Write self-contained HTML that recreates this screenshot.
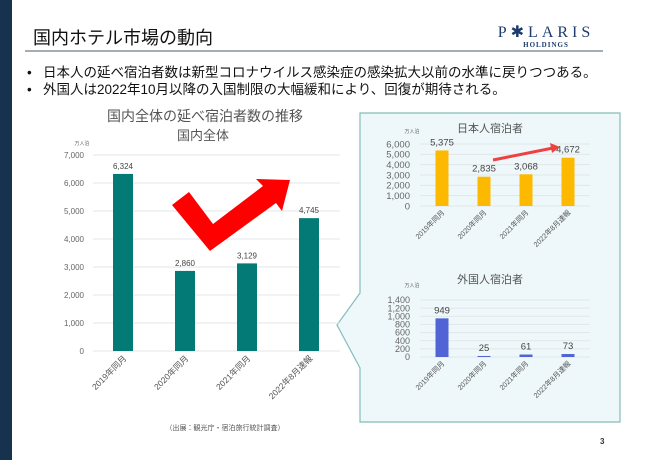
<!DOCTYPE html>
<html><head><meta charset="utf-8"><style>
body{margin:0;width:650px;height:460px;background:#fff;overflow:hidden;font-family:"Liberation Sans","Noto Sans CJK JP",sans-serif;position:relative}
.abs{position:absolute}
</style></head><body>
<div class="abs" style="left:0;top:0;width:12px;height:460px;background:#16324f"></div>
<div class="abs" style="left:33px;top:24px;font-size:18px;color:#111">国内ホテル市場の動向</div>
<div class="abs" style="left:25px;top:50px;width:578px;height:2px;background:#a3adb6"></div>
<div class="abs" style="left:496px;top:22px;width:100px;text-align:center;color:#1d3c6e;font-family:'Liberation Serif',serif">
<div style="font-size:16px;letter-spacing:4px">P✱LARIS</div><div style="font-size:7px;letter-spacing:1px;margin-top:-1px;font-weight:bold">HOLDINGS</div></div>
<div class="abs" style="left:27px;top:61px;font-size:13.5px;color:#111">•&nbsp;&nbsp;&nbsp;日本人の延べ宿泊者数は新型コロナウイルス感染症の感染拡大以前の水準に戻りつつある。</div>
<div class="abs" style="left:27px;top:78px;font-size:13.5px;color:#111">•&nbsp;&nbsp;&nbsp;外国人は2022年10月以降の入国制限の大幅緩和により、回復が期待される。</div>
<svg class="abs" style="left:0;top:0" width="650" height="460" id="svg">
<polygon points="360,113 620,113 620,422 360,422 360,368 337,325 360,293" fill="#eef8fa" stroke="#85bcba" stroke-width="1.2"/>
<text x="205" y="121" text-anchor="middle" font-size="14" fill="#555">国内全体の延べ宿泊者数の推移</text>
<text x="203" y="140" text-anchor="middle" font-size="13" fill="#555">国内全体</text>
<text x="82" y="145" text-anchor="middle" font-size="5" fill="#666">万人泊</text>
<text x="490" y="132" text-anchor="middle" font-size="11" fill="#555">日本人宿泊者</text>
<text x="412" y="133" text-anchor="middle" font-size="5" fill="#666">万人泊</text>
<text x="490" y="283" text-anchor="middle" font-size="11" fill="#555">外国人宿泊者</text>
<text x="412" y="287" text-anchor="middle" font-size="5" fill="#666">万人泊</text>
<g id="main"></g><g id="jp"></g><g id="fr"></g>
<polygon points="172,205 189,192 213,224 263,186 256,179 290,180 282,211 276,203 210,251" fill="#f00"/>
<line x1="493" y1="160" x2="553" y2="148" stroke="#f04040" stroke-width="3"/>
<polygon points="560,147 550,143 552,153" fill="#f04040"/>
<text x="225" y="430" text-anchor="middle" font-size="7" fill="#555">（出展：観光庁・宿泊旅行統計調査）</text>
<text x="600" y="444" font-size="8" font-weight="bold" fill="#333">3</text>
</svg>
<script>
const categories=["2019年同月","2020年同月","2021年同月","2022年8月速報"];
const totalValues=[6324,2860,3129,4745];
const japanValues=[5375,2835,3068,4672];
const foreignValues=[949,25,61,73];
const totalTicks=[0,1000,2000,3000,4000,5000,6000,7000];
const japanTicks=[0,1000,2000,3000,4000,5000,6000];
const foreignTicks=[0,200,400,600,800,1000,1200,1400];
const NS="http://www.w3.org/2000/svg";
function mk(g,tag,a,txt){const e=document.createElementNS(NS,tag);for(const k in a)e.setAttribute(k,a[k]);if(txt!==undefined)e.textContent=txt;g.appendChild(e);return e;}
function draw(id,vals,ticks,o){
 const g=document.getElementById(id);const max=ticks[ticks.length-1];
 const y=v=>o.y0-(v/max)*(o.y0-o.yTop);
 const x=i=>o.x0+o.step*(i+0.5);
 ticks.forEach(t=>{
  const l=mk(g,'line',{x1:o.gx1,x2:o.gx2,y1:y(t),y2:y(t),stroke:'#e3e6e8','stroke-width':1});
  
  
  const tx=mk(g,'text',{x:o.lx,y:y(t)+o.fs*0.35,'text-anchor':'end','font-size':o.fs,fill:'#666'},t.toLocaleString('en-US'));
  
  
 });
 vals.forEach((v,i)=>{
  const r=mk(g,'rect',{x:x(i)-o.bw/2,y:y(v),width:o.bw,height:Math.max(o.y0-y(v),0.8),fill:o.color});
  
  
  const vt=mk(g,'text',{x:x(i),y:y(v)-o.vgap,'text-anchor':'middle','font-size':o.vfs,fill:'#444'},v.toLocaleString('en-US'));
  
  
  const cx=x(i)+o.cdx,cy=o.y0+o.cdy;
  const ct=mk(g,'text',{x:cx,y:cy,'text-anchor':'end','font-size':o.cfs,fill:'#555',transform:`rotate(-45 ${cx} ${cy})`},categories[i]);
  
  
 });
}
draw('main',totalValues,totalTicks,{x0:92,step:62,y0:351,yTop:155,gx1:93,gx2:340,lx:84,fs:8,bw:20,color:'#037a76',vgap:5,vfs:8,cdx:4,cdy:8,cfs:8.5});
draw('jp',japanValues,japanTicks,{x0:421,step:42,y0:206,yTop:144,gx1:420,gx2:590,lx:410,fs:9.5,bw:13,color:'#fdb900',vgap:5,vfs:9.5,cdx:3,cdy:7,cfs:7.2});
draw('fr',foreignValues,foreignTicks,{x0:421,step:42,y0:357,yTop:300,gx1:420,gx2:590,lx:410,fs:9,bw:13,color:'#5064d5',vgap:5,vfs:9.5,cdx:3,cdy:7,cfs:7.2});
</script>
</body></html>
